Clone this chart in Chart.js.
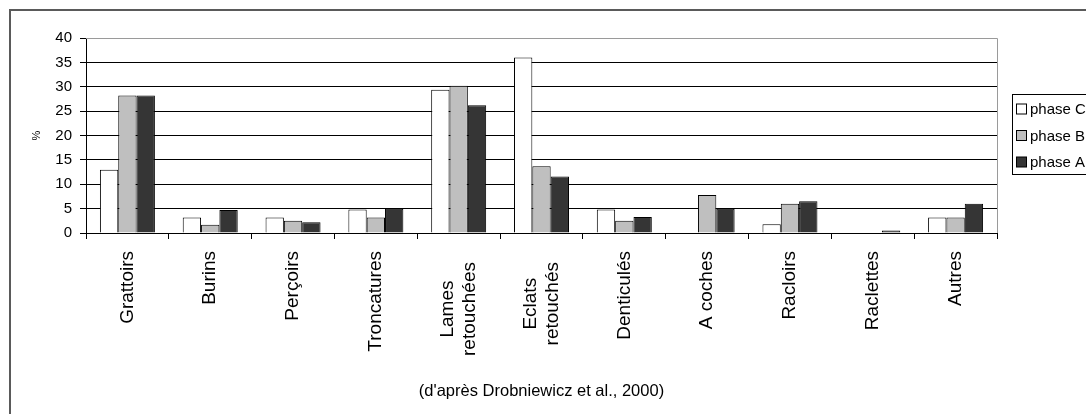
<!DOCTYPE html>
<html>
<head>
<meta charset="utf-8">
<script src="https://cdn.jsdelivr.net/npm/chart.js@4/dist/chart.umd.min.js"></script>
<style>
  body { margin: 0; overflow: hidden; background: #fff; }
  #wrap { position: relative; width: 1086px; height: 414px; }
  #frame { position: absolute; left: 9px; top: 9px; right: -10px; bottom: -10px;
           border-top: 2px solid #5a5a5a; border-left: 2px solid #5a5a5a; pointer-events: none; }
</style>
</head>
<body>
<div id="wrap">
  <canvas id="outilsChart" width="1086" height="414"></canvas>
  <div id="frame"></div>
</div>
<script>
// Data
const categories = ['Grattoirs', 'Burins', 'Perçoirs', 'Troncatures', ['Lames', 'retouchées'],
    ['Eclats', 'retouchés'], 'Denticulés', 'A coches', 'Racloirs', 'Raclettes', 'Autres'];
const phaseC = [13.0, 3.2, 3.2, 4.8, 29.4, 36.0, 4.8, 0, 1.8, 0, 3.2];
const phaseB = [28.2, 1.7, 2.5, 3.2, 30.2, 13.7, 2.5, 7.8, 6.0, 0, 3.2];
const phaseA = [28.2, 4.7, 2.2, 5.0, 26.2, 11.6, 3.3, 5.0, 6.5, 0.5, 6.0];
const seriesLabels = ['phase C', 'phase B', 'phase A'];
const yTicks = [0, 5, 10, 15, 20, 25, 30, 35, 40];

const font = "'Liberation Sans', Arial, sans-serif";

// plot frame (gray top + right edge), category labels and the clipped legend box
const framePlugin = {
    id: 'framePlugin',
    afterDatasetsDraw(chart) {
        const {ctx, chartArea} = chart;
        ctx.save();
        ctx.strokeStyle = '#9a9a9a';
        ctx.lineWidth = 1;
        ctx.beginPath();
        ctx.moveTo(chartArea.left, chartArea.top + 0.5);
        ctx.lineTo(chartArea.right + 0.5, chartArea.top + 0.5);
        ctx.lineTo(chartArea.right + 0.5, chartArea.bottom);
        ctx.stroke();
        ctx.restore();
    },
    afterDraw(chart) {
        const ctx = chart.ctx;
        const xScale = chart.scales.x;
        ctx.save();
        // rotated category labels, multi-line ones centred like the original
        ctx.font = '19px ' + font;
        ctx.fillStyle = '#000';
        ctx.textBaseline = 'middle';
        const lh = 22;
        chart.data.labels.forEach((lab, i) => {
            const lines = Array.isArray(lab) ? lab : [lab];
            const px = xScale.getPixelForValue(i);
            const top = xScale.top + (lines.length > 1 ? 29 : 18);
            const widths = lines.map(l => ctx.measureText(l).width);
            const maxW = Math.max(...widths);
            lines.forEach((l, j) => {
                const x = px + (j - (lines.length - 1) / 2) * lh;
                const y = top + maxW / 2;
                ctx.save();
                ctx.translate(x, y);
                ctx.rotate(-Math.PI / 2);
                ctx.textAlign = 'center';
                ctx.fillText(l, 0, 0);
                ctx.restore();
            });
        });
        // legend
        ctx.strokeStyle = '#000';
        ctx.lineWidth = 1;
        ctx.strokeRect(1012.5, 94.5, 120, 80);
        ctx.font = '15px ' + font;
        ctx.textAlign = 'left';
        chart.data.datasets.forEach((ds, i) => {
            const y = 109 + i * 26.5;
            ctx.fillStyle = ds.backgroundColor;
            ctx.fillRect(1016.5, y - 5, 10, 10);
            ctx.strokeRect(1016.5, y - 5, 10, 10);
            ctx.fillStyle = '#000';
            ctx.fillText(ds.label, 1030, y + 1);
        });
        ctx.restore();
    }
};

const ctx = document.getElementById('outilsChart').getContext('2d');
const outilsChart = new Chart(ctx, {
    type: 'bar',
    data: {
        labels: categories,
        datasets: [
            { label: seriesLabels[0], data: phaseC, backgroundColor: '#ffffff' },
            { label: seriesLabels[1], data: phaseB, backgroundColor: '#bfbfbf' },
            { label: seriesLabels[2], data: phaseA, backgroundColor: '#353535' }
        ]
    },
    options: {
        responsive: false,
        animation: false,
        layout: { padding: { top: 38, right: 89, left: 0, bottom: 0 } },
        datasets: {
            bar: {
                borderColor: '#000',
                borderWidth: 1,
                categoryPercentage: 0.664,
                barPercentage: 1
            }
        },
        plugins: {
            legend: { display: false },
            tooltip: { enabled: false }
        },
        scales: {
            y: {
                min: 0,
                max: 40,
                afterBuildTicks: (scale) => { scale.ticks = yTicks.map(v => ({ value: v })); },
                afterFit: (scale) => { scale.width = 86; },
                ticks: {
                    color: '#000',
                    padding: 8,
                    font: { family: font, size: 15 }
                },
                grid: {
                    color: (c) => c.tick && c.tick.value === 40 ? '#9a9a9a' : '#000',
                    tickColor: '#000',
                    tickLength: 6,
                    lineWidth: 1
                },
                border: { color: '#000', width: 1 },
                title: {
                    display: true,
                    text: '%',
                    color: '#000',
                    font: { family: font, size: 11 },
                    padding: { top: 30, bottom: 0 }
                }
            },
            x: {
                afterFit: (scale) => { scale.height = 181; },
                ticks: {
                    display: false,
                    autoSkip: false
                },
                grid: {
                    offset: true,
                    drawOnChartArea: false,
                    color: '#000',
                    tickLength: 6
                },
                border: { color: '#000', width: 1 },
                title: {
                    display: true,
                    text: "(d'après Drobniewicz et al., 2000)",
                    color: '#000',
                    font: { family: font, size: 16.5 },
                    padding: { top: 0, bottom: 13 }
                }
            }
        }
    },
    plugins: [framePlugin]
});
</script>
</body>
</html>
